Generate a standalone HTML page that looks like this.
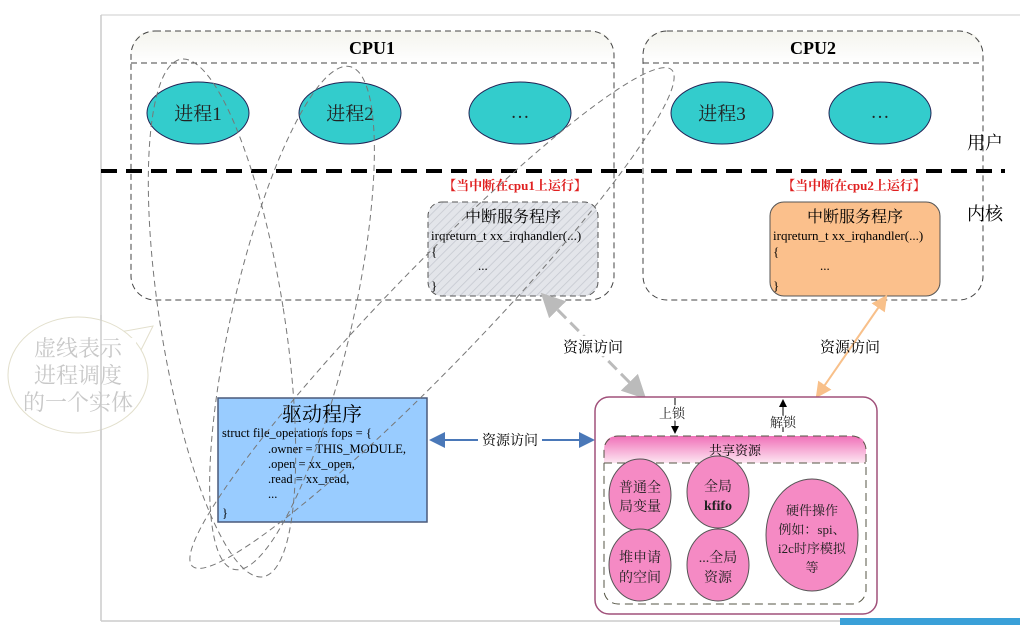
<!DOCTYPE html><html><head><meta charset="utf-8"><style>
body{margin:0;background:#fff;width:1020px;height:625px;overflow:hidden}
text{font-family:"Liberation Serif","Noto Serif CJK SC",serif}
</style></head><body>
<svg width="1020" height="625" viewBox="0 0 1020 625" xmlns="http://www.w3.org/2000/svg">
<defs>
<pattern id="h" width="6" height="6" patternUnits="userSpaceOnUse" patternTransform="rotate(45)"><rect width="6" height="6" fill="#e3e5ea"/><line x1="0" y1="0" x2="0" y2="6" stroke="#c4c7cf" stroke-width="1.5"/></pattern>
<linearGradient id="pk" x1="0" y1="0" x2="0" y2="1"><stop offset="0" stop-color="#f070b8"/><stop offset="1" stop-color="#fde6f2"/></linearGradient>
<linearGradient id="cg" x1="0" y1="0" x2="0" y2="1"><stop offset="0" stop-color="#f4f4ee"/><stop offset="1" stop-color="#fff"/></linearGradient>
<marker id="ag" markerWidth="8" markerHeight="8" refX="6" refY="4" orient="auto-start-reverse"><path d="M0,0 L8,4 L0,8z" fill="#bbb"/></marker>
<marker id="ao" markerWidth="8" markerHeight="8" refX="6" refY="4" orient="auto-start-reverse"><path d="M0,0 L8,4 L0,8z" fill="#f8c08a"/></marker>
<marker id="ab" markerWidth="8" markerHeight="8" refX="6" refY="4" orient="auto-start-reverse"><path d="M0,0 L8,4 L0,8z" fill="#4a78b8"/></marker>
<marker id="ak" markerWidth="8" markerHeight="8" refX="6" refY="4" orient="auto"><path d="M0,0 L8,4 L0,8z" fill="#000"/></marker>
</defs>
<line x1="101" y1="15" x2="1020" y2="15" stroke="#ccc"/>
<line x1="101" y1="15" x2="101" y2="621" stroke="#ccc" stroke-width="1.5"/>
<line x1="101" y1="621" x2="1020" y2="621" stroke="#ccc" stroke-width="1.5"/>
<rect x="840" y="618" width="180" height="7" fill="#3aa0d8"/>
<path d="M120,332 L153,326 L140,352" fill="#fff" stroke="#e2dfcc"/>
<ellipse cx="78" cy="375" rx="70" ry="58" fill="#fff" stroke="#e2dfcc"/>
<rect x="112" y="338" width="24" height="20" fill="#fff"/>
<line x1="101" y1="315" x2="101" y2="440" stroke="#ccc" stroke-width="1.5"/>
<g font-size="22" fill="#c8c8c8" text-anchor="middle"><text x="78" y="356">虚线表示</text><text x="78" y="383">进程调度</text><text x="78" y="410">的一个实体</text></g>
<path d="M131,63 V55 Q131,31 155,31 H590 Q614,31 614,55 V63z" fill="url(#cg)"/>
<rect x="131" y="31" width="483" height="269" rx="24" fill="none" stroke="#444" stroke-dasharray="6,4"/>
<line x1="131" y1="63" x2="614" y2="63" stroke="#444" stroke-dasharray="6,4"/>
<path d="M643,63 V55 Q643,31 667,31 H959 Q983,31 983,55 V63z" fill="url(#cg)"/>
<rect x="643" y="31" width="340" height="269" rx="24" fill="none" stroke="#444" stroke-dasharray="6,4"/>
<line x1="643" y1="63" x2="983" y2="63" stroke="#444" stroke-dasharray="6,4"/>
<text x="372" y="54" font-size="18" font-weight="bold" text-anchor="middle">CPU1</text>
<text x="813" y="54" font-size="18" font-weight="bold" text-anchor="middle">CPU2</text>
<g fill="#33cccc" stroke="#225" stroke-width="1">
<ellipse cx="198" cy="113" rx="51" ry="31"/><ellipse cx="350" cy="113" rx="51" ry="31"/><ellipse cx="520" cy="113" rx="51" ry="31"/><ellipse cx="722" cy="113" rx="51" ry="31"/><ellipse cx="880" cy="113" rx="51" ry="31"/></g>
<g font-size="19" text-anchor="middle" fill="#222"><text x="198" y="120">进程1</text><text x="350" y="120">进程2</text><text x="520" y="118">…</text><text x="722" y="120">进程3</text><text x="880" y="118">…</text></g>
<line x1="101" y1="171" x2="1005" y2="171" stroke="#000" stroke-width="4" stroke-dasharray="16,9"/>
<text x="985" y="149" font-size="18" text-anchor="middle">用户</text>
<text x="985" y="220" font-size="18" text-anchor="middle">内核</text>
<g font-size="13" fill="#e02020" text-anchor="middle" font-weight="bold"><text x="515" y="190">【当中断在cpu1上运行】</text><text x="854" y="190">【当中断在cpu2上运行】</text></g>
<rect x="428" y="202" width="170" height="94" rx="14" fill="url(#h)" stroke="#555" stroke-dasharray="6,4"/>
<rect x="770" y="202" width="170" height="94" rx="14" fill="#fbc08c" stroke="#555"/>
<g font-size="13"><text x="513" y="222" font-size="16" text-anchor="middle">中断服务程序</text><text x="431" y="240">irqreturn_t  xx_irqhandler(...)</text><text x="431" y="256">{</text><text x="478" y="270">...</text><text x="431" y="290">}</text>
<text x="855" y="222" font-size="16" text-anchor="middle">中断服务程序</text><text x="773" y="240">irqreturn_t  xx_irqhandler(...)</text><text x="773" y="256">{</text><text x="820" y="270">...</text><text x="773" y="290">}</text></g>
<line x1="545" y1="297" x2="642" y2="395" stroke="#bbb" stroke-width="3" stroke-dasharray="12,6" marker-start="url(#ag)" marker-end="url(#ag)"/>
<line x1="885" y1="298" x2="818" y2="395" stroke="#f8c08a" stroke-width="2" marker-start="url(#ao)" marker-end="url(#ao)"/>
<rect x="558" y="336" width="70" height="20" fill="#fff"/>
<g font-size="15" text-anchor="middle"><text x="593" y="352">资源访问</text><text x="850" y="352">资源访问</text></g>
<rect x="218" y="398" width="209" height="124" fill="#99ccff" stroke="#4a5a7a" stroke-width="1.5"/>
<text x="322" y="421" font-size="20" text-anchor="middle">驱动程序</text>
<g font-size="12.5"><text x="222" y="437">struct file_operations fops = {</text><text x="268" y="453">.owner = THIS_MODULE,</text><text x="268" y="468">.open = xx_open,</text><text x="268" y="483">.read = xx_read,</text><text x="268" y="498">...</text><text x="222" y="517">}</text></g>
<line x1="433" y1="440" x2="591" y2="440" stroke="#4a78b8" stroke-width="2" marker-start="url(#ab)" marker-end="url(#ab)"/>
<rect x="478" y="431" width="64" height="18" fill="#fff"/>
<text x="510" y="445" font-size="14" text-anchor="middle">资源访问</text>
<rect x="595" y="397" width="282" height="217" rx="14" fill="#fff" stroke="#a0507a" stroke-width="1.5"/>
<path d="M604,463 V450 Q604,436 618,436 H852 Q866,436 866,450 V463z" fill="url(#pk)"/>
<rect x="604" y="436" width="262" height="168" rx="14" fill="none" stroke="#554" stroke-dasharray="8,5"/>
<line x1="604" y1="463" x2="866" y2="463" stroke="#554" stroke-dasharray="8,5"/>
<text x="735" y="455" font-size="13" text-anchor="middle">共享资源</text>
<line x1="675" y1="398" x2="675" y2="432" stroke="#000" marker-end="url(#ak)"/>
<line x1="783" y1="432" x2="783" y2="401" stroke="#000" marker-end="url(#ak)"/>
<text x="672" y="418" font-size="13" text-anchor="middle" fill="#222" style="paint-order:stroke" stroke="#fff" stroke-width="3">上锁</text>
<text x="783" y="427" font-size="13" text-anchor="middle" fill="#222" style="paint-order:stroke" stroke="#fff" stroke-width="3">解锁</text>
<g fill="#f58ac4" stroke="#555"><ellipse cx="640" cy="495" rx="31" ry="36"/><ellipse cx="718" cy="492" rx="31" ry="36"/><ellipse cx="640" cy="565" rx="31" ry="36"/><ellipse cx="718" cy="565" rx="31" ry="36"/><ellipse cx="812" cy="535" rx="46" ry="56"/></g>
<g font-size="14" text-anchor="middle" fill="#222"><text x="640" y="492">普通全</text><text x="640" y="511">局变量</text><text x="718" y="491">全局</text><text x="718" y="510" font-weight="bold">kfifo</text><text x="640" y="562">堆申请</text><text x="640" y="582">的空间</text><text x="718" y="562">...全局</text><text x="718" y="582">资源</text>
<text x="812" y="515" font-size="13">硬件操作</text><text x="812" y="534" font-size="13">例如：spi、</text><text x="812" y="553" font-size="13">i2c时序模拟</text><text x="812" y="572" font-size="13">等</text></g>
<g fill="none" stroke="#777" stroke-dasharray="6,4" stroke-width="1">
<ellipse cx="222" cy="318" rx="62" ry="262" transform="rotate(-9 222 318)"/>
<ellipse cx="292" cy="318" rx="60" ry="258" transform="rotate(13 292 318)"/>
<ellipse cx="432" cy="318" rx="48" ry="345" transform="rotate(44 432 318)"/>
</g>
</svg></body></html>
